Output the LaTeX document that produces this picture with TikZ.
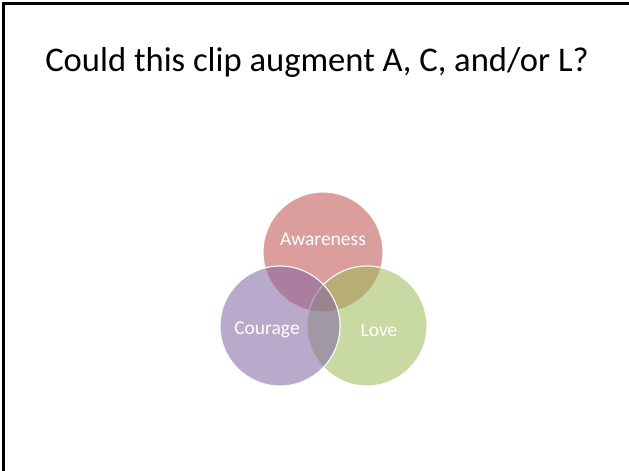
\documentclass[tikz,border=0pt]{standalone}
\usepackage{fontspec}
\setmainfont{Carlito}
\definecolor{cred}{HTML}{C0504D}
\definecolor{cpurple}{HTML}{8064A2}
\definecolor{cgreen}{HTML}{9BBB59}
\tikzset{
  venn/.style={fill opacity=0.55, draw=white, draw opacity=0.9, line width=1.2bp},
  lbl/.style={text=white, font=\fontsize{19.5bp}{23bp}\selectfont, inner sep=0pt},
}
\begin{document}
\begin{tikzpicture}[x=1bp,y=-1bp]
\useasboundingbox (0,0) rectangle (629,471);
\fill[white] (0,0) rectangle (629,471);
\draw[line width=3bp] (3.5,471) -- (3.5,3.5) -- (629,3.5);
\node[font=\fontsize{34.6bp}{40bp}\selectfont, anchor=base] (title) at (317,72) {Could this clip augment A, C, and/or L?};
\filldraw[cred, venn, draw=white] (323,252) circle (60);
\filldraw[cgreen, venn, draw=white] (367,326) circle (60);
\filldraw[cpurple, venn, draw=white] (280,326) circle (60);
\node[lbl] (aw) at (323,239) {Awareness};
\node[lbl] (co) at (267,330) {Courage};
\node[lbl] (lo) at (379,330) {Love};
\end{tikzpicture}
\end{document}
